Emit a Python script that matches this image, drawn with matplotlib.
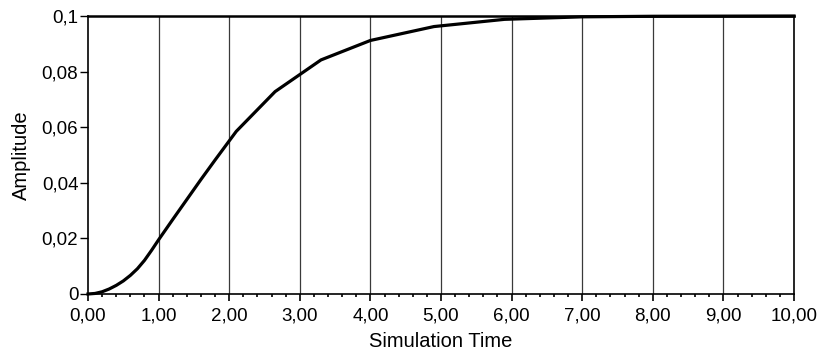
import matplotlib
matplotlib.use('Agg')
import matplotlib.pyplot as plt
from matplotlib.ticker import MultipleLocator, FuncFormatter


# simulation output
sim_time = [0.0, 0.1, 0.2, 0.3, 0.4, 0.5, 0.6, 0.7, 0.8, 0.9, 1.0, 1.2, 1.4,
            1.6, 1.8, 2.1, 2.65, 3.3, 4.0, 4.9, 5.9, 7.0, 8.0, 10.0]
amplitude = [0.0, 0.0002, 0.0008, 0.0018, 0.0031, 0.0047, 0.0067, 0.0091,
             0.0121, 0.0157, 0.0195, 0.0268, 0.0340, 0.0412, 0.0482, 0.0585,
             0.0728, 0.0842, 0.0912, 0.0962, 0.0988, 0.0997, 0.0999, 0.1]

x_ticks = [0, 1, 2, 3, 4, 5, 6, 7, 8, 9, 10]
y_ticks = [0, 0.02, 0.04, 0.06, 0.08, 0.1]
y_labels = ['0', '0,02', '0,04', '0,06', '0,08', '0,1']

plt.rcParams['font.family'] = ['Liberation Sans', 'DejaVu Sans']
FS = 13.5

fig = plt.figure(figsize=(8.18, 3.56), dpi=100)
ax = fig.add_axes([88 / 818, 1 - 294 / 356, 706 / 818, 278 / 356])

for t in x_ticks[1:-1]:
  ax.axvline(t, color='#3a3a3a', lw=0.9, zorder=1)

ax.plot(sim_time, amplitude, color='black', lw=2.3, zorder=3,
        solid_joinstyle='miter', clip_on=False)

ax.set_xlim(0, 10)
ax.set_ylim(0, 0.1)
ax.set_xticks(x_ticks)
ax.xaxis.set_minor_locator(MultipleLocator(0.2))
ax.xaxis.set_major_formatter(FuncFormatter(lambda v, p: '{:.2f}'.format(v).replace('.', ',')))
ax.set_yticks(y_ticks)
ax.set_yticklabels(y_labels)

ax.tick_params(axis='x', which='major', direction='out', length=5, width=1.2,
               pad=5, labelsize=FS, color='black')
ax.tick_params(axis='x', which='minor', direction='out', length=2.5, width=1.2,
               color='black')
ax.tick_params(axis='y', which='major', direction='out', length=6, width=1.0,
               pad=1, labelsize=FS)

for side in ['left', 'right', 'bottom']:
  ax.spines[side].set_linewidth(1.2)
ax.spines['top'].set_linewidth(1.8)

ax.set_xlabel('Simulation Time', fontsize=14.5, labelpad=5)
ax.set_ylabel('Amplitude', fontsize=14.5, labelpad=8)

fig.savefig('out.png', dpi=100)
